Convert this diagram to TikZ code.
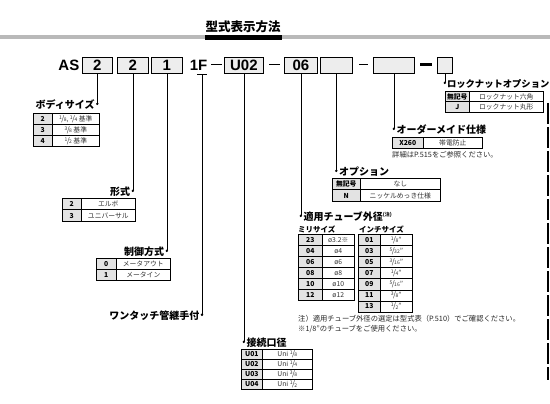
\documentclass[tikz,border=0pt]{standalone}
\usepackage{fontspec}
\setmainfont{Noto Sans CJK JP}
\newfontfamily\hv{Liberation Sans}
\usetikzlibrary{arrows.meta}
\newcommand\fr[2]{\raisebox{0.3em}{\fontsize{5}{5}\selectfont #1}\kern-0.08em{\fontsize{7.5}{8}\selectfont /}\kern-0.08em\raisebox{-0.05em}{\fontsize{5}{5}\selectfont #2}}
\newcommand\trow[8]{%
  \node[keyc, minimum width=#4pt, minimum height=#6pt] (#1k) at (#2,#3) {#7};
  \node[valc, minimum width=#5pt, minimum height=#6pt] (#1v) at ({#2+#4},#3) {#8};}
\tikzset{
  hdrbox/.style={draw=black, line width=0.7pt, fill=gray!14, inner sep=0pt, anchor=north west,
    minimum height=16pt, font=\hv\bfseries\fontsize{15}{15}\selectfont},
  hdrtxt/.style={inner sep=0pt, anchor=base, font=\hv\bfseries\fontsize{15}{15}\selectfont},
  conn/.style={line width=0.7pt, -{Circle[length=2.4pt]}},
  lbl/.style={font=\bfseries\fontsize{10}{12}\selectfont, inner sep=0pt},
  keyc/.style={draw, line width=0.6pt, fill=gray!22, inner sep=0pt, anchor=north west,
    font=\bfseries\fontsize{6.8}{8}\selectfont},
  valc/.style={draw, line width=0.6pt, inner sep=0pt, anchor=north west,
    font=\fontsize{6.8}{8}\selectfont, text=black!80},
  note/.style={font=\fontsize{7.3}{9}\selectfont, inner sep=0pt, anchor=west, text=black!85},
  sub/.style={font=\bfseries\fontsize{7.5}{9}\selectfont, inner sep=0pt, anchor=west},
}
\begin{document}
\begin{tikzpicture}[x=1pt,y=-1pt]
\useasboundingbox (0,0) rectangle (550,404);
% title
\node[font=\bfseries\fontsize{12.5}{14}\selectfont, inner sep=0pt] (title) at (243,27) {型式表示方法};
\fill[gray!55] (0,35) rectangle (550,39.5);
\fill[black] (205,35) rectangle (282,40);
% header row
\node[hdrtxt, anchor=base east] (as) at (79.5,70.5) {AS};
\node[hdrbox, minimum width=30pt] (b1) at (82,57) {2};
\node[hdrbox, minimum width=31pt] (b2) at (117,57) {2};
\node[hdrbox, minimum width=31pt] (b3) at (151,57) {1};
\node[hdrtxt, anchor=base east] (t1f) at (207.5,70.5) {1F};
\node[hdrbox, minimum width=39pt] (b4) at (224,57) {U02};
\node[hdrbox, minimum width=33pt] (b5) at (284,57) {06};
\node[hdrbox, minimum width=32pt] (b6) at (320,57) {};
\node[hdrbox, minimum width=41pt] (b7) at (373,57) {};
\node[hdrbox, minimum width=15pt] (b8) at (437,57) {};
\draw[line width=1.3pt] (211,64.5) -- (222,64.5);
\draw[line width=1.3pt] (269,64.5) -- (280,64.5);
\draw[line width=1.3pt] (359,64.5) -- (368,64.5);
\draw[line width=3pt] (420,64.5) -- (432,64.5);
% right edge dashed line
\draw[line width=1.2pt, dash pattern=on 21pt off 3pt] (548,103) -- (548,380);
% label levels
\coordinate (y1) at (0,105);
\coordinate (y2) at (0,192);
\coordinate (y3) at (0,252);
\coordinate (y4) at (0,316);
\coordinate (y5) at (0,343);
\coordinate (y6) at (0,217);
\coordinate (y7) at (0,172);
\coordinate (y8) at (0,130);
\coordinate (y9) at (0,84);
\coordinate (d1) at (b1.south |- y1);
\coordinate (d2) at (b2.south |- y2);
\coordinate (d3) at (b3.south |- y3);
\coordinate (fb) at (202,74.5);
\coordinate (d4) at (fb |- y4);
\coordinate (d5) at (b4.south |- y5);
\coordinate (d6) at (b5.south |- y6);
\coordinate (d7) at (b6.south |- y7);
\coordinate (d8) at (b7.south |- y8);
\coordinate (d9) at (b8.south |- y9);
\draw[conn] (b1) -- (d1);
\draw[conn] (b2) -- (d2);
\draw[conn] (b3) -- (d3);
\draw[line width=0.7pt] ([xshift=-5pt]fb) -- ([xshift=5pt]fb);
\draw[conn] (fb) -- (d4);
\draw[conn] (b4) -- (d5);
\draw[conn] (b5) -- (d6);
\draw[conn] (b6) -- (d7);
\draw[conn] (b7) -- (d8);
\draw[conn] (b8) -- (d9);
% labels
\node[lbl, anchor=east] (l1) at ([xshift=-2.5pt]d1) {ボディサイズ};
\node[lbl, anchor=east] (l2) at ([xshift=-2.5pt]d2) {形式};
\node[lbl, anchor=east] (l3) at ([xshift=-2.5pt]d3) {制御方式};
\node[lbl, anchor=east] (l4) at ([xshift=-2.5pt]d4) {ワンタッチ管継手付};
\node[lbl, anchor=west] (l5) at ([xshift=2.5pt]d5) {接続口径};
\node[lbl, anchor=west] (l6) at ([xshift=2.5pt]d6) {適用チューブ外径\raisebox{0.45em}{\fontsize{5}{5}\selectfont (注)}};
\node[lbl, anchor=west] (l7) at ([xshift=2.5pt]d7) {オプション};
\node[lbl, anchor=west] (l8) at ([xshift=2.5pt]d8) {オーダーメイド仕様};
\node[lbl, anchor=west, font=\bfseries\fontsize{9.3}{11}\selectfont] (l9) at ([xshift=2pt]d9) {ロックナットオプション};
% body size table
\trow{bsa}{33}{113}{19}{47}{11}{2}{\fr18, \fr14 基準}
\trow{bsb}{33}{124}{19}{47}{11}{3}{\fr38 基準}
\trow{bsc}{33}{135}{19}{47}{11}{4}{\fr12 基準}
% type table
\trow{tya}{62}{198}{19}{54}{11.5}{2}{エルボ}
\trow{tyb}{62}{209.5}{19}{54}{11.5}{3}{ユニバーサル}
% control table
\trow{cta}{96}{258}{20}{54}{11}{0}{メータアウト}
\trow{ctb}{96}{269}{20}{54}{11}{1}{メータイン}
% port table
\trow{pta}{241}{348.5}{21}{50}{10.2}{U01}{Uni \fr18}
\trow{ptb}{241}{358.7}{21}{50}{10.2}{U02}{Uni \fr14}
\trow{ptc}{241}{368.9}{21}{50}{10.2}{U03}{Uni \fr38}
\trow{ptd}{241}{379.1}{21}{50}{10.2}{U04}{Uni \fr12}
% tube tables
\node[sub] (mm) at (298,230) {ミリサイズ};
\node[sub] (inch) at (359,230) {インチサイズ};
\trow{mma}{298}{234}{24}{32}{11}{23}{ø3.2※}
\trow{mmb}{298}{245}{24}{32}{11}{04}{ø4}
\trow{mmc}{298}{256}{24}{32}{11}{06}{ø6}
\trow{mmd}{298}{267}{24}{32}{11}{08}{ø8}
\trow{mme}{298}{278}{24}{32}{11}{10}{ø10}
\trow{mmf}{298}{289}{24}{32}{11}{12}{ø12}
\trow{ina}{358}{234}{22}{32}{11.1}{01}{\fr18"}
\trow{inb}{358}{245.1}{22}{32}{11.1}{03}{\fr5{32}"}
\trow{inc}{358}{256.2}{22}{32}{11.1}{05}{\fr3{16}"}
\trow{ind}{358}{267.3}{22}{32}{11.1}{07}{\fr14"}
\trow{ine}{358}{278.4}{22}{32}{11.1}{09}{\fr5{16}"}
\trow{inf}{358}{289.5}{22}{32}{11.1}{11}{\fr38"}
\trow{ing}{358}{300.6}{22}{32}{11.1}{13}{\fr12"}
\node[note] (n1) at (298,319) {注）適用チューブ外径の選定は型式表（P.510）でご確認ください。};
\node[note] (n2) at (298,329) {※1/8"のチューブをご使用ください。};
% option table
\trow{opa}{332}{178}{28}{80}{11.5}{無記号}{なし}
\trow{opb}{332}{189.5}{28}{80}{11.5}{N}{ニッケルめっき仕様}
% made to order
\trow{mto}{392}{137}{31}{59}{11.5}{X260}{帯電防止}
\node[note] (n3) at (392,154.5) {詳細はP.515をご参照ください。};
% lock nut
\trow{lna}{445}{91}{24}{74}{10.3}{無記号}{ロックナット六角}
\trow{lnb}{445}{101.3}{24}{74}{10.3}{J}{ロックナット丸形}
\end{tikzpicture}
\end{document}
